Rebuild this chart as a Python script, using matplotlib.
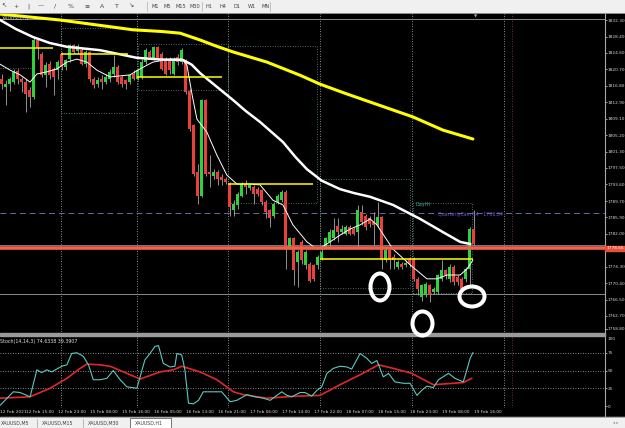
import numpy as np
import matplotlib
matplotlib.use("Agg")
import matplotlib.pyplot as plt
from matplotlib.patches import Rectangle, Ellipse

# XAUUSD H1 candles, 12 Feb 2021 07:00 .. 19 Feb 2021 16:00
opens = [1818.5, 1816.5, 1817.3, 1817.7, 1820.2, 1818.5, 1817.7, 1815.8, 1814.2, 1827.5,
         1824.4, 1819.3, 1822.0, 1820.8, 1820.5, 1824.4, 1821.2, 1823.2, 1826.5, 1824.9,
         1825.2, 1822.0, 1824.8, 1818.5, 1817.3, 1818.5, 1817.7, 1818.5, 1819.7, 1821.2,
         1818.9, 1818.1, 1817.7, 1819.7, 1818.5, 1818.9, 1822.4, 1824.8, 1823.2, 1825.9,
         1824.4, 1823.2, 1823.2, 1819.7, 1823.6, 1822.4, 1822.8, 1815.7, 1807.5, 1796.5,
         1791.0, 1813.4, 1796.5, 1795.7, 1796.5, 1795.3, 1795.0, 1793.8, 1787.5, 1788.7,
         1791.0, 1793.8, 1792.8, 1793.0, 1792.6, 1792.2, 1789.5, 1787.5, 1786.3, 1789.5,
         1789.9, 1791.8, 1778.9, 1780.9, 1775.4, 1780.1, 1774.6, 1775.0, 1774.6, 1774.6,
         1776.1, 1778.9, 1780.1, 1780.9, 1783.9, 1782.4, 1782.0, 1783.6, 1783.2, 1782.4,
         1787.1, 1786.3, 1785.6, 1784.8, 1784.0, 1785.9, 1775.8, 1778.1, 1776.5, 1774.2,
         1775.0, 1774.6, 1776.1, 1776.1, 1771.4, 1767.1, 1767.5, 1769.9, 1768.3, 1768.3,
         1771.4, 1773.4, 1771.4, 1774.2, 1771.8, 1771.4, 1771.4, 1773.8, 1783.2]
highs = [1819.7, 1818.1, 1818.9, 1820.7, 1820.8, 1818.9, 1818.5, 1816.5, 1828.3, 1827.9,
         1824.8, 1822.4, 1822.6, 1821.2, 1822.8, 1824.8, 1823.2, 1826.7, 1826.7, 1826.7,
         1825.6, 1825.2, 1824.9, 1818.9, 1818.9, 1819.3, 1819.7, 1820.8, 1824.0, 1821.6,
         1819.3, 1818.5, 1819.7, 1820.5, 1820.8, 1823.2, 1825.6, 1825.2, 1826.3, 1826.3,
         1824.8, 1823.6, 1823.6, 1823.6, 1824.4, 1825.6, 1823.2, 1816.1, 1807.9, 1798.5,
         1813.6, 1813.6, 1800.5, 1797.3, 1796.9, 1796.1, 1795.3, 1794.2, 1789.9, 1791.8,
         1794.2, 1794.6, 1793.8, 1793.4, 1793.0, 1792.6, 1789.9, 1787.9, 1789.5, 1791.4,
         1792.2, 1792.2, 1781.2, 1781.2, 1778.1, 1780.5, 1778.1, 1775.4, 1775.0, 1776.9,
         1779.3, 1781.2, 1783.2, 1785.6, 1785.6, 1784.0, 1784.0, 1784.0, 1783.6, 1788.7,
         1788.7, 1786.7, 1786.3, 1787.1, 1789.5, 1786.3, 1778.9, 1778.9, 1777.3, 1775.8,
         1775.4, 1775.8, 1776.5, 1776.5, 1771.8, 1770.3, 1770.7, 1770.3, 1769.5, 1772.6,
         1775.8, 1773.8, 1775.0, 1774.6, 1772.2, 1771.8, 1774.2, 1783.6, 1787.5]
lows = [1816.1, 1812.2, 1815.7, 1817.3, 1817.3, 1815.4, 1810.6, 1811.8, 1813.6, 1823.2,
        1818.9, 1816.5, 1818.5, 1814.6, 1818.5, 1820.5, 1820.5, 1822.4, 1824.4, 1824.4,
        1821.6, 1821.2, 1817.7, 1816.3, 1816.5, 1816.1, 1817.3, 1817.7, 1818.9, 1817.3,
        1816.5, 1816.1, 1817.3, 1818.1, 1818.1, 1818.5, 1822.0, 1823.2, 1822.8, 1822.8,
        1820.5, 1819.3, 1819.7, 1819.3, 1821.6, 1822.0, 1815.0, 1806.3, 1795.7, 1789.1,
        1790.6, 1795.7, 1793.0, 1795.0, 1793.4, 1793.4, 1793.8, 1786.3, 1786.3, 1787.9,
        1790.6, 1791.4, 1792.2, 1789.1, 1791.0, 1788.7, 1785.6, 1783.6, 1785.6, 1789.1,
        1789.5, 1773.8, 1778.5, 1769.9, 1769.5, 1775.0, 1773.8, 1770.7, 1771.0, 1773.8,
        1775.8, 1778.5, 1778.5, 1780.5, 1780.1, 1782.0, 1781.6, 1781.6, 1781.6, 1778.9,
        1784.0, 1782.8, 1783.6, 1779.3, 1783.6, 1773.8, 1775.4, 1773.8, 1773.8, 1773.8,
        1773.8, 1774.2, 1774.2, 1771.0, 1767.5, 1766.3, 1767.1, 1765.9, 1767.9, 1767.9,
        1771.0, 1771.4, 1770.7, 1769.9, 1769.9, 1768.7, 1770.7, 1769.9, 1779.3]
closes = [1817.3, 1817.3, 1818.5, 1820.1, 1818.5, 1817.6, 1815.0, 1814.2, 1827.5, 1825.6,
          1819.3, 1821.6, 1819.3, 1818.9, 1822.4, 1821.2, 1822.8, 1826.5, 1824.8, 1826.3,
          1822.0, 1824.8, 1818.5, 1816.9, 1818.1, 1817.7, 1818.9, 1820.1, 1821.2, 1817.7,
          1817.3, 1817.3, 1819.3, 1818.5, 1820.5, 1822.4, 1825.2, 1823.6, 1825.9, 1823.2,
          1820.8, 1819.7, 1820.5, 1823.2, 1822.4, 1825.2, 1815.4, 1806.7, 1796.1, 1791.0,
          1813.4, 1796.1, 1796.1, 1796.5, 1795.0, 1794.6, 1794.2, 1788.3, 1789.1, 1791.4,
          1793.8, 1793.0, 1793.4, 1791.4, 1791.4, 1789.5, 1787.1, 1785.6, 1789.1, 1791.0,
          1791.8, 1778.9, 1780.9, 1773.4, 1777.7, 1775.8, 1777.7, 1771.0, 1771.4, 1776.5,
          1777.7, 1780.9, 1782.4, 1782.8, 1782.4, 1783.2, 1783.6, 1782.0, 1782.0, 1787.5,
          1784.8, 1783.6, 1784.4, 1784.0, 1785.9, 1775.8, 1778.1, 1775.8, 1775.8, 1775.4,
          1774.2, 1775.2, 1775.0, 1771.4, 1769.1, 1769.9, 1770.3, 1767.5, 1769.1, 1772.2,
          1773.4, 1772.2, 1774.2, 1770.7, 1770.7, 1769.1, 1773.8, 1783.2, 1779.7]

# moving averages (bar index, price)
ma200_x = [-0.4, 14.6, 32.8, 40.0, 44.6, 49.6, 53.5, 57.8, 66.3, 74.6, 79.6, 86.0, 92.1,
           102.8, 110.3, 117.8]
ma200_y = [1833.7, 1832.3, 1830.0, 1829.6, 1829.2, 1827.6, 1826.2, 1824.8, 1822.4, 1819.3,
           1817.2, 1815.0, 1813.0, 1809.5, 1806.4, 1804.3]
ma50_x = [-0.4, 3.5, 7.8, 12.0, 16.3, 24.6, 33.8, 40.0, 45.3, 47.5, 49.6, 53.5, 57.8, 61.0,
          64.6, 70.3, 73.5, 76.3, 80.0, 84.6, 88.0, 92.1, 97.8, 104.6, 110.3, 114.6, 117.1]
ma50_y = [1832.3, 1830.2, 1828.3, 1826.9, 1826.0, 1825.2, 1823.4, 1823.0, 1822.9, 1821.8,
          1819.8, 1816.8, 1813.5, 1810.9, 1808.3, 1803.6, 1800.0, 1797.2, 1794.5, 1792.5,
          1791.6, 1790.7, 1788.8, 1785.5, 1782.4, 1780.1, 1779.6]
ma10_x = [-0.4, 2.1, 4.6, 7.1, 8.8, 11.3, 13.8, 16.3, 18.8, 21.3, 23.8, 27.1, 32.1, 34.6,
          37.8, 42.1, 45.1, 46.3, 47.6, 48.8, 51.3, 53.8, 56.3, 58.8, 62.1, 64.6, 67.8,
          70.3, 72.8, 76.3, 78.8, 80.1, 82.1, 84.6, 87.1, 89.6, 92.1, 93.8, 97.8, 102.1,
          106.3, 108.8, 111.3, 114.6, 116.3, 117.8]
ma10_y = [1821.9, 1820.5, 1819.4, 1817.7, 1819.6, 1820.1, 1820.8, 1822.4, 1823.1, 1822.4,
          1820.5, 1818.9, 1819.4, 1820.8, 1822.4, 1823.1, 1823.1, 1821.7, 1814.7, 1809.0,
          1805.9, 1800.5, 1795.8, 1793.7, 1793.7, 1793.5, 1789.9, 1788.8, 1784.1, 1780.1,
          1778.4, 1778.9, 1780.1, 1781.7, 1783.1, 1784.1, 1785.5, 1784.1, 1778.4, 1774.7,
          1771.4, 1771.4, 1772.3, 1772.3, 1773.7, 1775.8]

# stochastic (bar index, value)
stoch_x = [-0.4, 2.9, 4.6, 7.1, 8.8, 10.0, 11.3, 12.5, 15.0, 16.3, 17.5, 18.8, 20.4, 21.7,
           22.9, 24.6, 26.3, 27.9, 29.6, 31.3, 33.8, 35.8, 37.1, 38.3, 39.2, 40.4, 42.1,
           43.3, 43.8, 45.0, 45.8, 46.7, 47.9, 49.2, 50.4, 52.9, 55.0, 57.1, 58.8, 61.3,
           63.3, 65.4, 67.1, 68.8, 70.0, 71.3, 72.5, 74.6, 75.8, 77.5, 78.8, 80.0, 81.3,
           82.9, 84.6, 86.3, 87.5, 89.6, 91.3, 92.5, 93.8, 95.4, 96.7, 98.3, 100.4, 102.1,
           103.8, 105.0, 106.3, 107.9, 109.2, 111.7, 113.3, 115.4, 116.3, 117.1, 117.8]
stoch_main = [1, 20, 19, 13, 51, 47, 51, 48, 56, 58, 74, 75, 70, 58, 37, 37, 39, 50, 37, 27,
              25, 65, 74, 84, 85, 60, 55, 56, 74, 72, 51, 4, 3, 8, 20, 20, 20, 6, 8, 16,
              13, 11, 8, 15, 20, 15, 13, 19, 19, 14, 22, 27, 46, 53, 56, 55, 52, 74, 67, 60,
              64, 41, 46, 34, 32, 32, 15, 22, 28, 26, 37, 46, 39, 34, 51, 67, 75]
signal_x = [-0.4, 7.1, 12.1, 16.3, 19.6, 21.3, 24.6, 27.1, 31.3, 34.6, 39.6, 42.9, 45.0,
            49.6, 53.8, 57.9, 60.4, 66.3, 71.3, 74.6, 79.6, 84.6, 89.6, 94.2, 97.9, 102.5,
            107.9, 112.9, 115.4, 117.5]
stoch_signal = [11, 13, 25, 39, 53, 59, 58, 56, 46, 38, 48, 51, 56, 48, 37, 20, 16, 11, 13,
                14, 15, 30, 44, 58, 53, 46, 30, 32, 33, 39]

# drawn objects
yellow_levels = [1825.8, 1824.4, 1818.8, 1793.6, 1776.1]
yellow_from = [-0.5, 14.8, 33.8, 56.6, 79.6]
yellow_to = [12.8, 31.6, 55.1, 77.8, 117.8]
boxes = [(14.8, 33.8, 1810.4, 1830.4), (34.0, 56.6, 1815.8, 1826.7),
         (56.6, 78.8, 1789.2, 1826.2), (79.6, 102.1, 1769.2, 1794.9),
         (102.8, 117.6, 1768.1, 1789.3)]
red_level = 1778.65
cam_s4 = 1786.84
price_ticks = [1832.30, 1828.40, 1824.60, 1820.70, 1816.80, 1812.90, 1809.10, 1805.20,
               1801.30, 1797.50, 1793.60, 1789.70, 1785.90, 1782.00, 1774.30,
               1770.40, 1766.50, 1762.70]
bottom_tick = 1758.80
time_labels = ["12 Feb 2021", "12 Feb 15:00", "12 Feb 23:00", "15 Feb 08:00", "15 Feb 16:00",
               "16 Feb 05:00", "16 Feb 13:00", "16 Feb 21:00", "17 Feb 06:00", "17 Feb 14:00",
               "17 Feb 22:00", "18 Feb 07:00", "18 Feb 15:00", "18 Feb 23:00", "19 Feb 08:00",
               "19 Feb 16:00"]
time_label_bars = [-0.3, 6, 14, 22, 30, 38, 46, 54, 62, 70, 78, 86, 94, 102, 110, 118]
grid_bars = [14.8, 33.8, 56.6, 79.6, 102.6, 125.6]

W, H = 625, 428
fig = plt.figure(figsize=(W / 100, H / 100), dpi=100, facecolor="black")

def px_axes(x0, y0, x1, y1):
    return fig.add_axes([x0 / W, 1 - y1 / H, (x1 - x0) / W, (y1 - y0) / H])

ax = px_axes(0, 13, 605, 334)
ax2 = px_axes(0, 335, 605, 408)
for a in (ax, ax2):
    a.set_facecolor("black")
    a.set_xlim(-0.425, 150.825)
    for s in a.spines.values():
        s.set_visible(False)
    a.set_xticks([])
    a.yaxis.tick_right()
    a.tick_params(axis="y", colors="#d8d8d8", labelsize=3.1, length=1.2, width=0.5, pad=0.8)
    for g in grid_bars:
        a.axvline(g, color="#b8b8b8", lw=0.6, ls=(0, (1, 2)), zorder=1)
    a.axvline(127.6, color="#8a4050", lw=0.6, ls=(0, (1, 2)), zorder=1)

# main price chart
ax.set_ylim(1758.42, 1833.95)
ax.set_yticks(price_ticks)
ax.set_yticklabels([f"{v:.2f}" for v in price_ticks])

o = np.array(opens); hi = np.array(highs); lo = np.array(lows); c = np.array(closes)
idx = np.arange(len(o))
up = c >= o
ax.vlines(idx, lo, hi, color="#a8a8a8", lw=0.6, zorder=3)
ax.bar(idx[up], np.maximum(c - o, 0.15)[up], bottom=o[up], width=0.68,
       color="#2ed23a", zorder=4)
ax.bar(idx[~up], np.maximum(o - c, 0.15)[~up], bottom=c[~up], width=0.68,
       color="#ea3f3a", zorder=4)

for x0, x1, y0, y1 in boxes:
    ax.add_patch(Rectangle((x0, y0), x1 - x0, y1 - y0, fill=False, ec="#5a8c8c",
                           lw=0.6, ls=(0, (1, 2)), zorder=2))
ax.hlines(1821.0, -0.5, 7.5, color="#5a8c8c", lw=0.6, ls=(0, (1, 2)), zorder=2)

ax.plot(ma200_x, ma200_y, color="#ffff00", lw=2.2, zorder=5, solid_capstyle="round")
ax.plot(ma50_x, ma50_y, color="white", lw=1.8, zorder=5)
ax.plot(ma10_x, ma10_y, color="white", lw=0.7, zorder=5)

ax.hlines(yellow_levels, yellow_from, yellow_to, color="#ffff00", lw=1.1, zorder=6)
ax.axhline(1832.6, color="#8a8a8a", lw=0.7, zorder=2)
ax.axhline(1779.4, color="#8090a8", lw=0.6, zorder=2)
ax.axhline(1767.8, color="#8a8a8a", lw=0.7, zorder=2)
ax.axhline(cam_s4, color="#6a6aa8", lw=0.7, ls=(0, (6, 4)), zorder=2)
ax.axhline(red_level, color="#f0604a", lw=2.6, zorder=6)
ax.text(125.3, cam_s4 - 0.4, f"QuarterlyCam S4   {cam_s4:.2f}", color="#6a5ad0",
        fontsize=3.4, ha="right", va="center", zorder=7)
ax.text(103.5, 1788.9, "DayHi", color="#3fa6a6", fontsize=3.6, ha="left", va="center",
        zorder=7)

# stochastic panel
ax2.set_ylim(-2.8, 100)
ax2.set_yticks([0, 25, 50, 75])
for lvl in (25, 50, 75):
    ax2.axhline(lvl, color="#b8b8b8", lw=0.6, ls=(0, (1, 2)), zorder=1)
ax2.plot(stoch_x, stoch_main, color="#5cc8c0", lw=0.8, zorder=4)
ax2.plot(signal_x, stoch_signal, color="#e02828", lw=1.2, zorder=3)

# window chrome, overlay in pixel units
ov = fig.add_axes([0, 0, 1, 1], zorder=10)
ov.set_xlim(0, W)
ov.set_ylim(H, 0)
ov.axis("off")
ov.patch.set_alpha(0)

ov.add_patch(Rectangle((0, 0), W, 12, color="#f0f0f0", zorder=1))
ov.plot([0, W], [12.5, 12.5], color="#a0a0a0", lw=0.6)
tool_icons = [(1, "↖"), (13, "+"), (27, "|"), (38, "—"), (54, "/"), (68, "%"), (84, "≡"),
              (100, "A"), (115, "T"), (128, "↘")]
for x, s in tool_icons:
    ov.text(x, 6, s, fontsize=4.5, color="#404040", va="center")
for x in (147, 202, 270):
    ov.plot([x, x], [1.5, 10.5], color="#b0b0b0", lw=0.5)
for x, s in zip([151, 164, 176, 189, 205, 219, 234, 248, 261],
                ["M1", "M5", "M15", "M30", "H1", "H4", "D1", "W1", "MN"]):
    ov.text(x, 6, s, fontsize=3.6, color="#404040", va="center")

ov.text(2, 18, "XAUUSD,H1", fontsize=3.4, color="#d0d0d0", va="center")
ov.text(476, 16, "▼", fontsize=3, color="#b0b0b0", ha="center", va="center")
ov.text(0.5, 341, "Stoch(14,14,3) 74.6338 39.3907", fontsize=3.4, color="#e0e0e0",
        va="center")

ov.plot([605, 605], [13, 416], color="#a8a8a8", lw=0.8)
ov.add_patch(Rectangle((0, 333), 605, 2.5, color="#9a9a9a", zorder=3))
ov.plot([605, 607], [329, 329], color="#d8d8d8", lw=0.5)
ov.text(607.5, 329, f"{bottom_tick:.2f}", fontsize=3.1, color="#d8d8d8", va="center")
ov.text(607.5, 339, "100", fontsize=3.1, color="#d8d8d8", va="center")
ov.add_patch(Rectangle((605, 245.5), 20, 5.5, color="#e8503a", zorder=3))
ov.text(606.5, 248.3, f"{red_level:.2f}", fontsize=3.1, color="white", va="center", zorder=4)

for b, s in zip(time_label_bars, time_labels):
    ov.text(1.7 + 4 * b, 412, s, fontsize=3.05, color="#d8d8d8", va="center")

ov.add_patch(Rectangle((0, 417), W, 11, color="#f0f0f0", zorder=1))
ov.plot([0, W], [417, 417], color="#a0a0a0", lw=0.6)
ov.add_patch(Rectangle((130, 417.5), 41, 10, fc="white", ec="#606060", lw=0.6, zorder=2))
for x, s in [(0.5, "XAUUSD,M5"), (42, "XAUUSD,M15"), (88, "XAUUSD,M30"), (135, "XAUUSD,H1")]:
    ov.text(x, 423, s, fontsize=3.4, color="#404040", va="center", zorder=3)
for x in (37, 83):
    ov.plot([x, x], [419, 427], color="#a0a0a0", lw=0.5)
ov.text(613, 423, "◂ ▸", fontsize=3, color="#808080", va="center")

# hand-drawn marks
ov.add_patch(Ellipse((380, 287), 19, 27, fill=False, ec="white", lw=2.9, zorder=5))
ov.add_patch(Ellipse((422.5, 323.5), 20, 24, fill=False, ec="white", lw=2.9, zorder=5))
ov.add_patch(Ellipse((472, 296.5), 25, 20, fill=False, ec="white", lw=2.9, zorder=5))

fig.savefig("out.png", dpi=100, facecolor="black")
